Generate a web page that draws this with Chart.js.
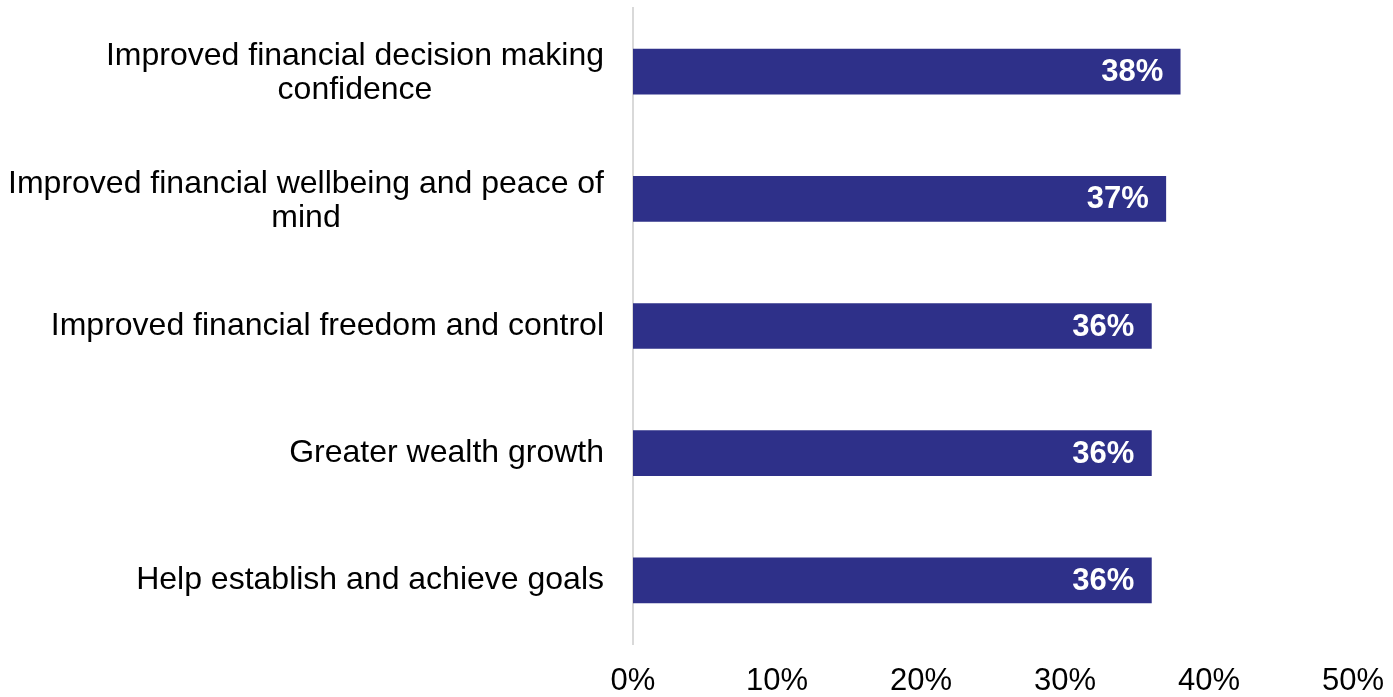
<!DOCTYPE html>
<html>
<head>
<meta charset="utf-8">
<script src="https://cdn.jsdelivr.net/npm/chart.js@4"></script>
<style>
  html, body { margin: 0; padding: 0; background: #ffffff; }
  #wrap { width: 1393px; height: 697px; position: relative; }
</style>
</head>
<body>
<div id="wrap"><canvas id="chart"></canvas></div>
<script>
// Survey categories (each entry holds the wrapped lines of one label)
const categories = [
  ['Improved financial decision making', 'confidence'],
  ['Improved financial wellbeing and peace of', 'mind'],
  ['Improved financial freedom and control'],
  ['Greater wealth growth'],
  ['Help establish and achieve goals']
];
// Share of respondents, in percent
const shares = [38, 37, 36, 36, 36];
// Value axis range and step
const axisMin = 0;
const axisMax = 50;
const axisStep = 10;

const FONT = "'Liberation Sans', Arial, Helvetica, sans-serif";
const BAR_COLOR = '#2e3089';

// Category labels: right-aligned block, lines centred inside the block
const categoryLabels = {
  id: 'categoryLabels',
  afterDraw(chart) {
    const { ctx, chartArea, scales } = chart;
    const yScale = scales.y;
    const lineH = 34;
    ctx.save();
    ctx.font = '32px ' + FONT;
    ctx.fillStyle = '#000000';
    ctx.textAlign = 'center';
    ctx.textBaseline = 'middle';
    const blockRight = chartArea.left - 29;
    categories.forEach((lines, i) => {
      const cy = yScale.getPixelForTick(i) + (lines.length > 1 ? 2 : 0);
      const w = Math.max(...lines.map(l => ctx.measureText(l).width));
      const cx = blockRight - w / 2;
      lines.forEach((line, j) => {
        const y = cy + (j - (lines.length - 1) / 2) * lineH;
        ctx.fillText(line, cx, y);
      });
    });
    ctx.restore();
  }
};

// Value labels inside the bar ends
const valueLabels = {
  id: 'valueLabels',
  afterDatasetsDraw(chart) {
    const { ctx } = chart;
    const meta = chart.getDatasetMeta(0);
    ctx.save();
    ctx.font = 'bold 31px ' + FONT;
    ctx.fillStyle = '#ffffff';
    ctx.textAlign = 'right';
    ctx.textBaseline = 'middle';
    meta.data.forEach((bar, i) => {
      ctx.fillText(shares[i] + '%', bar.x - 17, bar.y + 1);
    });
    ctx.restore();
  }
};

new Chart(document.getElementById('chart'), {
  type: 'bar',
  data: {
    labels: categories.map(l => l.join(' ')),
    datasets: [{
      data: shares,
      backgroundColor: BAR_COLOR,
      borderWidth: 0,
      barThickness: 45
    }]
  },
  options: {
    indexAxis: 'y',
    responsive: true,
    maintainAspectRatio: false,
    animation: false,
    layout: { padding: { top: 8, right: 40, left: 0, bottom: 0 } },
    plugins: {
      legend: { display: false },
      tooltip: { enabled: false }
    },
    scales: {
      x: {
        min: axisMin,
        max: axisMax,
        grid: { display: false, drawTicks: false },
        border: { display: false },
        ticks: {
          stepSize: axisStep,
          padding: 19,
          color: '#000000',
          font: { family: FONT, size: 31 },
          maxRotation: 0,
          callback: v => v + '%'
        },
        afterFit(scale) {
          scale.height = 53;
          scale.paddingLeft = 0;
          scale.paddingRight = 0;
        }
      },
      y: {
        grid: { display: false, drawTicks: false },
        border: { display: true, color: '#d9d9d9', width: 2 },
        ticks: { display: false },
        afterFit(scale) { scale.width = 633; }
      }
    }
  },
  plugins: [categoryLabels, valueLabels]
});
</script>
</body>
</html>
